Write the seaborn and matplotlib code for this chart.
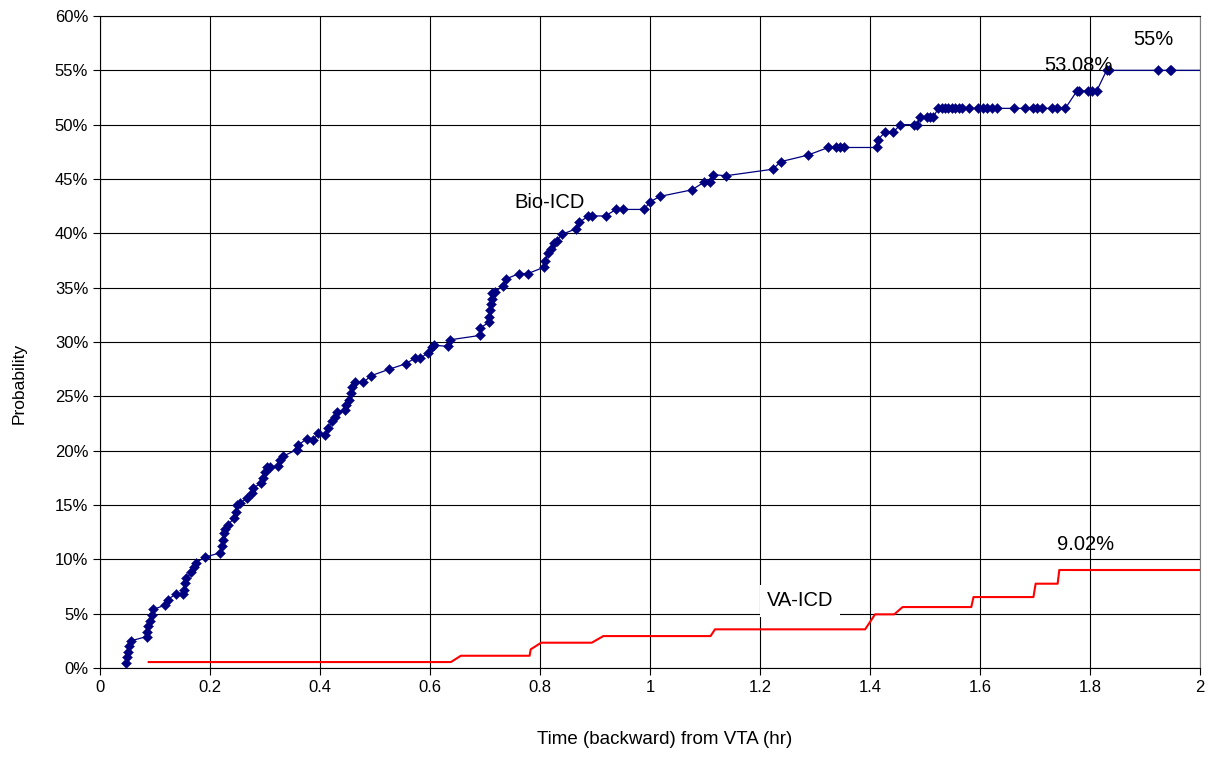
import numpy as np
import pandas as pd
import seaborn as sns
import matplotlib.pyplot as plt
from matplotlib.ticker import FuncFormatter, MultipleLocator

# Bio-ICD cumulative probability (%)
bio_time = [0.047, 0.0485, 0.051, 0.053, 0.056, 0.085, 0.086, 0.088, 0.091, 0.094,
            0.097, 0.119, 0.123, 0.139, 0.150, 0.152, 0.155, 0.157, 0.166, 0.170,
            0.174, 0.191, 0.218, 0.221, 0.223, 0.225, 0.228, 0.233, 0.244, 0.247,
            0.249, 0.255, 0.267, 0.276, 0.279, 0.293, 0.297, 0.300, 0.303, 0.309,
            0.324, 0.327, 0.333, 0.358, 0.360, 0.376, 0.388, 0.397, 0.409, 0.415,
            0.422, 0.427, 0.431, 0.445, 0.448, 0.453, 0.456, 0.459, 0.464, 0.479,
            0.493, 0.526, 0.556, 0.572, 0.582, 0.596, 0.603, 0.607, 0.633, 0.636,
            0.690, 0.691, 0.707, 0.708, 0.709, 0.710, 0.712, 0.713, 0.718, 0.733,
            0.738, 0.762, 0.778, 0.808, 0.809, 0.815, 0.819, 0.825, 0.830, 0.839,
            0.865, 0.871, 0.888, 0.895, 0.919, 0.938, 0.951, 0.989, 1.000, 1.018,
            1.076, 1.098, 1.109, 1.115, 1.138, 1.223, 1.238, 1.287, 1.324, 1.338,
            1.345, 1.353, 1.413, 1.414, 1.427, 1.442, 1.455, 1.479, 1.486, 1.490,
            1.503, 1.509, 1.515, 1.524, 1.530, 1.536, 1.542, 1.549, 1.555, 1.561,
            1.567, 1.579, 1.597, 1.606, 1.612, 1.621, 1.630, 1.662, 1.682, 1.697,
            1.704, 1.712, 1.730, 1.739, 1.755, 1.776, 1.780, 1.797, 1.803, 1.812,
            1.830, 1.834, 1.924, 1.945, 1.948]
bio_prob = [0.5, 1.0, 1.5, 2.0, 2.5, 2.9, 3.35, 3.85, 4.35, 4.9,
            5.4, 5.8, 6.3, 6.85, 6.8, 7.2, 7.8, 8.25, 8.8, 9.3,
            9.7, 10.2, 10.6, 11.2, 11.8, 12.4, 12.8, 13.2, 13.8, 14.4,
            15.0, 15.2, 15.6, 16.1, 16.6, 17.0, 17.5, 18.0, 18.5, 18.5,
            18.6, 19.1, 19.5, 20.1, 20.5, 21.1, 21.0, 21.6, 21.4, 22.1,
            22.7, 23.1, 23.6, 23.7, 24.2, 24.7, 25.3, 25.9, 26.3, 26.3,
            26.9, 27.5, 28.0, 28.5, 28.5, 29.0, 29.5, 29.7, 29.6, 30.2,
            30.6, 31.3, 31.8, 32.3, 32.9, 33.5, 34.0, 34.5, 34.6, 35.2,
            35.8, 36.3, 36.3, 36.9, 37.5, 38.2, 38.6, 39.1, 39.3, 39.9,
            40.4, 41.0, 41.6, 41.6, 41.6, 42.2, 42.2, 42.2, 42.9, 43.4,
            44.0, 44.7, 44.7, 45.4, 45.3, 45.9, 46.6, 47.2, 47.9, 47.9,
            47.9, 47.9, 47.9, 48.6, 49.3, 49.3, 50.0, 50.0, 50.0, 50.7,
            50.7, 50.7, 50.7, 51.5, 51.5, 51.5, 51.5, 51.5, 51.5, 51.5,
            51.5, 51.5, 51.5, 51.5, 51.5, 51.5, 51.5, 51.5, 51.5, 51.5,
            51.5, 51.5, 51.5, 51.5, 51.5, 53.1, 53.1, 53.1, 53.1, 53.1,
            55.0, 55.0, 55.0, 55.0, 55.0]
bio_end_time = 2.0
bio_end_prob = 55.0

# VA-ICD cumulative probability (%), corners of the step line
va_time = [0.088, 0.638, 0.656, 0.781, 0.783, 0.802, 0.894, 0.915, 1.110, 1.118,
           1.391, 1.409, 1.444, 1.459, 1.584, 1.588, 1.697, 1.701, 1.741, 1.744, 2.0]
va_prob = [0.55, 0.55, 1.13, 1.13, 1.72, 2.33, 2.33, 2.94, 2.94, 3.56,
           3.56, 4.94, 4.94, 5.61, 5.61, 6.53, 6.53, 7.76, 7.76, 9.02, 9.02]

bio = pd.DataFrame({"time": bio_time, "prob": bio_prob})
bio_line = pd.DataFrame({"time": bio_time + [bio_end_time],
                         "prob": bio_prob + [bio_end_prob]})
va = pd.DataFrame({"time": va_time, "prob": va_prob})

sns.set_style("white")
plt.rcParams["font.family"] = ["Liberation Sans", "DejaVu Sans"]
plt.rcParams["text.color"] = "black"
plt.rcParams["axes.labelcolor"] = "black"

fig = plt.figure(figsize=(12.11, 7.58), dpi=100)
ax = fig.add_axes([0.0826, 0.1187, 0.9084, 0.8602])

navy = "#000080"
sns.lineplot(data=bio_line, x="time", y="prob", ax=ax, color=navy, lw=0.9,
             estimator=None, sort=False)
sns.scatterplot(data=bio, x="time", y="prob", ax=ax, color=navy, marker="D",
                s=26, edgecolor=navy, linewidth=0.3, zorder=3)
sns.lineplot(data=va, x="time", y="prob", ax=ax, color="#ff0000", lw=1.5,
             estimator=None, sort=False)

ax.set_xlim(0, 2)
ax.set_ylim(0, 60)
ax.xaxis.set_major_locator(MultipleLocator(0.2))
ax.yaxis.set_major_locator(MultipleLocator(5))
ax.xaxis.set_major_formatter(FuncFormatter(lambda v, p: f"{v:g}"))
ax.yaxis.set_major_formatter(FuncFormatter(lambda v, p: f"{v:.0f}%"))
ax.grid(True, color="black", lw=0.8)
ax.set_axisbelow(True)
for s in ax.spines.values():
    s.set_color("black")
    s.set_linewidth(0.8)
ax.spines["right"].set_color("#808080")
ax.tick_params(axis="both", direction="out", length=5, width=0.8,
               labelsize=12, colors="black", bottom=True, left=True)

ax.set_xlabel("Time (backward) from VTA (hr)", fontsize=13.5)
ax.set_ylabel("Probability", fontsize=12.5)
ax.xaxis.set_label_coords(0.513, -0.097)
ax.yaxis.set_label_coords(-0.067, 0.436)

ax.text(0.818, 42.8, "Bio-ICD", fontsize=14.5, ha="center", va="center")
ax.text(1.778, 55.4, "53.08%", fontsize=14.5, ha="center", va="center")
ax.text(1.915, 57.8, "55%", fontsize=14.5, ha="center", va="center")
ax.text(1.791, 11.4, "9.02%", fontsize=14.5, ha="center", va="center")
ax.text(1.273, 6.17, "VA-ICD", fontsize=14.5, ha="center", va="center",
        bbox=dict(facecolor="white", edgecolor="none", pad=5))

plt.savefig("out.png", dpi=100)
